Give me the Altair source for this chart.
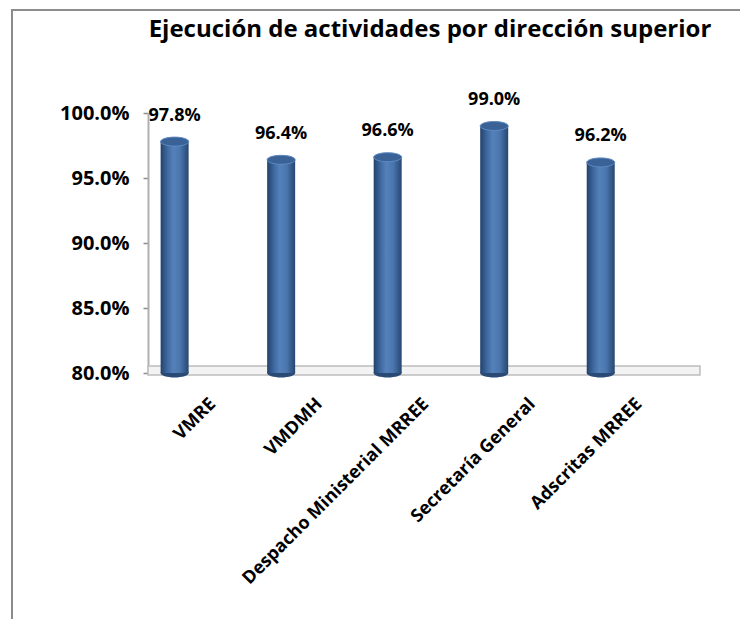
import json
import altair as alt
import pandas as pd

# ---------------- data ----------------
categories = ["VMRE", "VMDMH", "Despacho Ministerial MRREE", "Secretaría General", "Adscritas MRREE"]
values = [0.978, 0.964, 0.966, 0.990, 0.962]
y_ticks = [0.80, 0.85, 0.90, 0.95, 1.00]
title_text = "Ejecución de actividades por dirección superior"

df = pd.DataFrame({
    "idx": list(range(len(categories))),
    "cat": categories,
    "val": values,
})

W, H = 552, 260
FONT = "Open Sans"

x_sc = alt.Scale(domain=[-0.203, 4.885])
y_sc = alt.Scale(domain=[0.80, 1.00])

label_expr = json.dumps(categories) + "[datum.value]"

y_axis = alt.Axis(values=y_ticks, format=".1%", grid=False,
                  labelFont=FONT, labelFontSize=20, labelFontWeight="bold",
                  labelColor="black", labelPadding=14,
                  tickColor="#8c8c8c", tickSize=5, tickWidth=1.5,
                  domainColor="#b0b0b0", domainWidth=2)

x_axis = alt.Axis(values=list(range(len(categories))), labelExpr=label_expr,
                  labelAngle=-45, labelAlign="right", labelBaseline="middle",
                  labelFont=FONT, labelFontSize=18, labelFontWeight="bold",
                  labelColor="black", labelPadding=28, labelOffset=38, ticks=False,
                  domain=False, grid=False, labelOverlap=False,
                  labelLimit=500, labelBound=False, labelFlush=False)

ellipse = "M -1 0 A 1 0.32 0 1 0 1 0 A 1 0.32 0 1 0 -1 0 Z"
BW = 28

body_grad = alt.LinearGradient(
    gradient="linear", x1=0, x2=1, y1=0, y2=0,
    stops=[
        alt.GradientStop(color="#23426c", offset=0),
        alt.GradientStop(color="#3f69a0", offset=0.25),
        alt.GradientStop(color="#5581ba", offset=0.45),
        alt.GradientStop(color="#4a75ad", offset=0.7),
        alt.GradientStop(color="#26466f", offset=1),
    ],
)

one = alt.Data(values=[{"k": 0}])

# outer chart-area frame (only its top and left edges fall inside the page)
frame = alt.Chart(one).mark_rect(fill="transparent", stroke="#8c8c8c", strokeWidth=2).encode(
    x=alt.value(-136), x2=alt.value(W + 300),
    y=alt.value(-103), y2=alt.value(H + 400),
)

# floor (3-D base plane)
floor = alt.Chart(one).mark_rect(fill="#f3f3f3", stroke="#bdbdbd", strokeWidth=1.5).encode(
    x=alt.value(0), x2=alt.value(W),
    y=alt.value(H - 7), y2=alt.value(H + 2),
)

base = alt.Chart(df)

bottom_cap = base.mark_point(shape=ellipse, size=BW * BW, filled=True, opacity=1,
                             color="#2a4a76").encode(
    x=alt.X("idx:Q", scale=x_sc, title=None, axis=x_axis),
    y=alt.Y("base:Q", scale=y_sc, title=None, axis=y_axis),
).transform_calculate(base="0.8")

bars = base.mark_bar(size=BW, color=body_grad).encode(
    x=alt.X("idx:Q", scale=x_sc, title=None, axis=x_axis),
    y=alt.Y("val:Q", scale=y_sc, title=None, axis=y_axis),
    y2=alt.datum(0.80),
)

top_cap = base.mark_point(shape=ellipse, size=BW * BW, filled=True, opacity=1,
                          color="#3a6296", stroke="#5d8bc4", strokeWidth=1).encode(
    x=alt.X("idx:Q", scale=x_sc, title=None, axis=x_axis),
    y=alt.Y("val:Q", scale=y_sc, title=None, axis=y_axis),
)

value_labels = base.mark_text(font=FONT, fontSize=18, fontWeight="bold",
                              color="black", baseline="middle", dy=-26).encode(
    x=alt.X("idx:Q", scale=x_sc, title=None, axis=x_axis),
    y=alt.Y("val:Q", scale=y_sc, title=None, axis=y_axis),
    text=alt.Text("val:Q", format=".1%"),
)

title = alt.Chart(one).mark_text(font=FONT, fontSize=24, fontWeight="bold",
                                 color="black", align="center",
                                 baseline="alphabetic").encode(
    x=alt.value(282), y=alt.value(-76), text=alt.value(title_text))

chart = alt.layer(
    frame, floor, bottom_cap, bars, top_cap, value_labels, title
).properties(
    width=W, height=H,
    autosize=alt.AutoSizeParams(type="none"),
    padding={"left": 140, "top": 105, "right": 40, "bottom": 246},
).configure(background="white").configure_view(stroke=None)

chart.save("out.html", embed_options={"renderer": "svg", "actions": False})
